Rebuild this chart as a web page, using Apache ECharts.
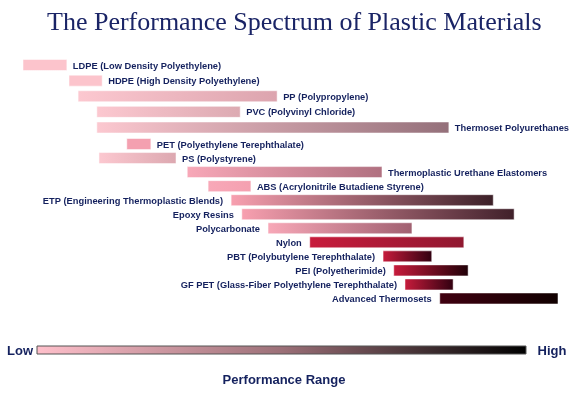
<!DOCTYPE html>
<html><head><meta charset="utf-8">
<script src="https://cdn.jsdelivr.net/npm/echarts@6/dist/echarts.min.js"></script>
<style>html,body{margin:0;padding:0;background:#fff}#c{width:576px;height:395px}</style>
</head><body><div id="c"></div>
<script>
// Relative performance scale (0 = lowest, 100 = highest)
const materials = [
  'LDPE (Low Density Polyethylene)',
  'HDPE (High Density Polyethylene)',
  'PP (Polypropylene)',
  'PVC (Polyvinyl Chloride)',
  'Thermoset Polyurethanes',
  'PET (Polyethylene Terephthalate)',
  'PS (Polystyrene)',
  'Thermoplastic Urethane Elastomers',
  'ABS (Acrylonitrile Butadiene Styrene)',
  'ETP (Engineering Thermoplastic Blends)',
  'Epoxy Resins',
  'Polycarbonate',
  'Nylon',
  'PBT (Polybutylene Terephthalate)',
  'PEI (Polyetherimide)',
  'GF PET (Glass-Fiber Polyethylene Terephthalate)',
  'Advanced Thermosets'
];
const rangeLow  = [0, 8.6, 10.3, 13.8, 13.8, 19.4, 14.2, 30.7, 34.6, 38.9, 40.9, 45.8, 53.6, 67.3, 69.3, 71.4, 77.9];
const rangeHigh = [8.2, 14.8, 47.5, 40.6, 79.6, 23.9, 28.6, 67.1, 42.6, 87.9, 91.8, 72.7, 82.4, 76.4, 83.2, 80.4, 100];
// labels placed to the left of the bar
const leftLabelled = ['ETP (Engineering Thermoplastic Blends)','Epoxy Resins','Polycarbonate','Nylon',
  'PBT (Polybutylene Terephthalate)','PEI (Polyetherimide)','GF PET (Glass-Fiber Polyethylene Terephthalate)','Advanced Thermosets'];
const scaleLabels = ['Low', 'High'];
const axisTitle = 'Performance Range';
const chartTitle = 'The Performance Spectrum of Plastic Materials';
const commodityCount = 5; // first block of rows (commodity plastics)

// styles
const colorFrom = ['#fcc4cc','#fcc4cc','#fcc8d0','#fcc8d0','#fcc8d0','#f4a0b0','#fcc8d0','#f8a8b8','#f8a8b8',
  '#f8a0b0','#f8a0b0','#f8a8b8','#c81c3c','#c81c3c','#c81c3c','#c81c3c','#400010'];
const colorTo = ['#fcc4cc','#fcc4cc','#dca4ae','#dcaab2','#94707a','#f4a0b0','#dca8b0','#b07080','#f4a0b0',
  '#3c2028','#40202a','#a06070','#901830','#300010','#200008','#300010','#100000'];
const navy = '#14215e';
const labelFont = 'bold 9.3px "Liberation Sans", Arial, sans-serif';
const bigFont = 'bold 13px "Liberation Sans", Arial, sans-serif';

const chart = echarts.init(document.getElementById('c'), null, {renderer: 'canvas'});

function renderItem(params, api) {
  const idx = api.value(0);
  const g = api.value(3);
  const s = api.coord([api.value(1), idx]);
  const e = api.coord([api.value(2), idx]);
  const h = 11;
  const name = materials[g];
  const left = leftLabelled.indexOf(name) >= 0;
  return {
    type: 'group',
    children: [{
      type: 'rect',
      shape: {x: s[0], y: s[1] - h / 2, width: e[0] - s[0], height: h},
      style: {
        fill: new echarts.graphic.LinearGradient(0, 0, 1, 0, [
          {offset: 0, color: colorFrom[g]}, {offset: 1, color: colorTo[g]}
        ]),
        stroke: 'rgba(255,255,255,0.5)', lineWidth: 1
      }
    }, {
      type: 'text',
      style: {
        text: name,
        x: left ? s[0] - 8 : e[0] + 6,
        y: s[1] + 1,
        fill: navy,
        font: labelFont,
        align: left ? 'right' : 'left',
        verticalAlign: 'middle'
      }
    }]
  };
}

const blocks = [[0, commodityCount], [commodityCount, materials.length]];
const series = blocks.map((b, k) => ({
  type: 'custom',
  xAxisIndex: k, yAxisIndex: k,
  encode: {x: [1, 2], y: 0},
  data: materials.slice(b[0], b[1]).map((m, j) => [j, rangeLow[b[0] + j], rangeHigh[b[0] + j], b[0] + j]),
  renderItem: renderItem
}));

chart.setOption({
  backgroundColor: '#ffffff',
  animation: false,
  title: {
    text: chartTitle, left: 42, top: 5,
    textStyle: {fontFamily: 'Liberation Serif', fontWeight: 'normal', fontSize: 26, color: '#1a2466'}
  },
  grid: [
    {left: 23, right: 18, top: 57.2, height: 78.1},
    {left: 23, right: 18, top: 137, bottom: 89.5}
  ],
  xAxis: blocks.map((b, k) => ({type: 'value', min: 0, max: 100, show: false, gridIndex: k})),
  yAxis: blocks.map((b, k) => ({type: 'category', data: materials.slice(b[0], b[1]), inverse: true, show: false, gridIndex: k})),
  series: series,
  graphic: [
    {type: 'rect', shape: {x: 37, y: 346, width: 489, height: 8},
     style: {fill: new echarts.graphic.LinearGradient(0, 0, 1, 0, [
       {offset: 0, color: '#ffc0cb'}, {offset: 0.5, color: '#9c7078'}, {offset: 1, color: '#000000'}]),
       stroke: '#555', lineWidth: 1}},
    {type: 'text', style: {text: scaleLabels[0], x: 20, y: 351, fill: navy, align: 'center', verticalAlign: 'middle', font: bigFont}},
    {type: 'text', style: {text: scaleLabels[1], x: 552, y: 351, fill: navy, align: 'center', verticalAlign: 'middle', font: bigFont}},
    {type: 'text', style: {text: axisTitle, x: 284, y: 380, fill: navy, align: 'center', verticalAlign: 'middle', font: bigFont}}
  ]
});
</script></body></html>
